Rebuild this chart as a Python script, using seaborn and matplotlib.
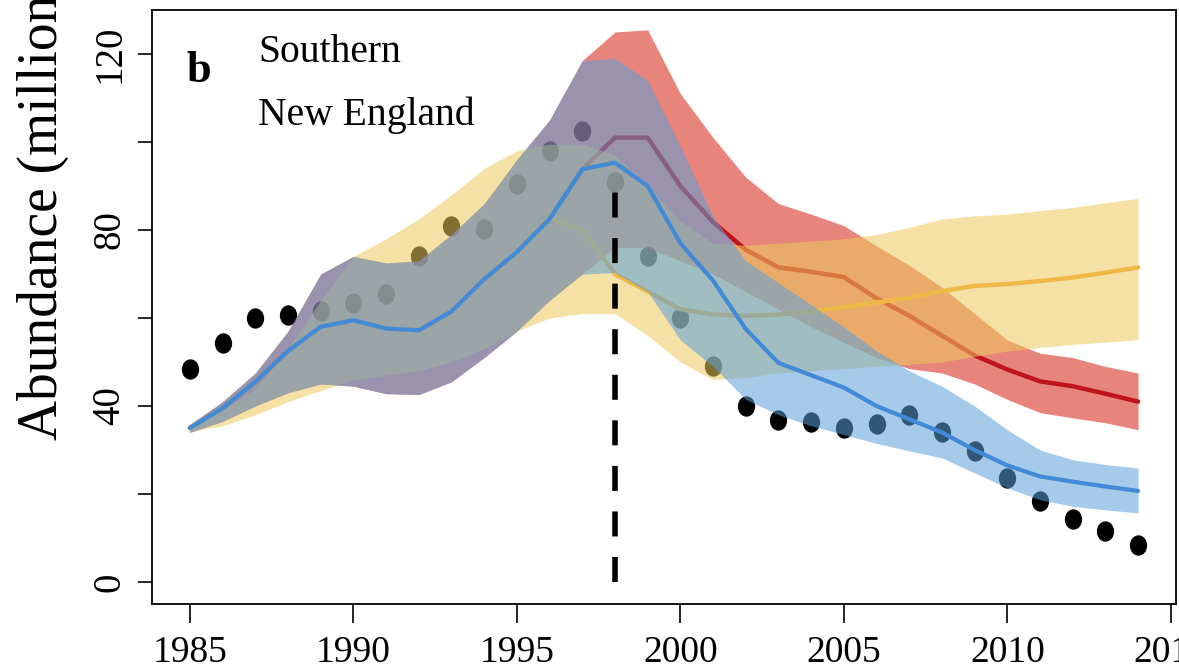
import matplotlib
matplotlib.use("Agg")
import matplotlib.pyplot as plt
import numpy as np
import pandas as pd
import seaborn as sns
from matplotlib.markers import MarkerStyle
from matplotlib.transforms import Affine2D

# ---------------- data ----------------
years = list(range(1985, 2015))

observed = [48.3, 54.4, 60.1, 60.7, 61.5, 63.4, 65.4, 74.2, 80.8, 80.2,
            90.4, 98.0, 102.5, 91.0, 74.0, 60.1, 49.0, 39.9, 36.9, 36.3,
            35.0, 35.9, 38.0, 34.1, 29.7, 23.6, 18.3, 14.3, 11.6, 8.4]

blue_mid = [35.0, 39.5, 45.5, 52.5, 58.0, 59.5, 57.6, 57.2, 61.5, 68.8,
            75.0, 82.5, 93.8, 95.3, 90.0, 77.0, 68.5, 57.5, 49.8, 47.0,
            44.2, 40.0, 37.0, 34.0, 30.0, 26.5, 24.0, 22.8, 21.7, 20.7]
blue_hi = [35.8, 41.0, 47.5, 57.0, 70.0, 74.0, 72.5, 73.0, 79.0, 86.0,
           96.0, 105.0, 118.5, 119.0, 114.0, 99.0, 83.0, 73.0, 68.0, 63.0,
           58.0, 52.5, 48.0, 44.5, 40.0, 34.6, 30.0, 27.8, 26.7, 25.9]
blue_lo = [34.0, 36.5, 40.0, 43.0, 45.0, 44.5, 42.8, 42.6, 45.5, 51.0,
           57.0, 64.0, 70.0, 70.3, 66.0, 55.0, 49.0, 41.5, 38.0, 35.5,
           33.5, 31.5, 29.8, 28.2, 24.8, 21.4, 18.7, 17.2, 16.4, 15.7]

red_mid = [35.0, 39.5, 45.5, 52.5, 58.0, 59.5, 57.6, 57.2, 61.5, 68.8,
           75.0, 82.5, 93.8, 101.0, 101.0, 90.0, 81.8, 75.5, 71.5, 70.5,
           69.3, 64.5, 60.5, 56.0, 51.5, 48.3, 45.6, 44.5, 42.8, 41.0]
red_hi = [35.8, 41.0, 47.5, 57.0, 70.0, 74.0, 72.5, 73.0, 79.0, 86.0,
          96.0, 105.0, 118.5, 125.0, 125.5, 111.0, 101.0, 92.0, 86.0, 83.6,
          81.0, 76.4, 72.0, 67.0, 61.0, 55.0, 52.0, 51.0, 49.0, 47.5]
red_lo = [34.0, 36.5, 40.0, 43.0, 45.0, 44.5, 42.8, 42.6, 45.5, 51.0,
          57.0, 64.0, 70.0, 76.0, 76.0, 73.0, 70.0, 66.0, 62.0, 58.0,
          54.5, 51.0, 48.5, 47.5, 45.0, 41.5, 38.5, 37.3, 36.2, 34.6]

yellow_mid = [35.0, 39.5, 45.5, 52.5, 58.0, 59.5, 57.6, 57.2, 61.5, 68.8,
              75.0, 82.5, 80.0, 70.0, 66.0, 62.0, 60.8, 60.5, 60.8, 61.5,
              62.5, 63.5, 64.6, 66.1, 67.3, 67.7, 68.4, 69.2, 70.3, 71.5]
yellow_hi = [35.5, 39.0, 44.0, 53.0, 64.0, 74.0, 78.0, 82.5, 88.0, 94.0,
             98.0, 99.5, 99.5, 97.0, 90.0, 82.0, 77.0, 76.5, 77.0, 77.5,
             78.0, 79.0, 80.6, 82.5, 83.2, 83.6, 84.4, 85.1, 86.2, 87.2]
yellow_lo = [34.2, 35.5, 38.0, 41.0, 43.5, 46.0, 47.0, 48.0, 50.0, 53.0,
             57.0, 60.0, 61.0, 61.0, 56.0, 50.0, 46.0, 46.5, 47.5, 48.0,
             48.5, 49.0, 49.5, 50.0, 51.3, 52.5, 53.3, 54.0, 54.5, 55.1]

split_year = 1998
x_ticks = [1985, 1990, 1995, 2000, 2005, 2010, 2015]
y_ticks = [0, 20, 40, 60, 80, 100, 120]
y_tick_labels = ["0", "", "40", "", "80", "", "120"]

df = pd.DataFrame({
    "year": years, "observed": observed,
    "blue_mid": blue_mid, "blue_hi": blue_hi, "blue_lo": blue_lo,
    "red_mid": red_mid, "red_hi": red_hi, "red_lo": red_lo,
    "yellow_mid": yellow_mid, "yellow_hi": yellow_hi, "yellow_lo": yellow_lo,
})

# ---------------- style ----------------
sns.set_style("ticks")
plt.rcParams["font.family"] = ["Liberation Serif", "DejaVu Serif"]
plt.rcParams["text.color"] = "black"
plt.rcParams["axes.labelcolor"] = "black"
plt.rcParams["xtick.color"] = "black"
plt.rcParams["ytick.color"] = "black"
plt.rcParams["axes.edgecolor"] = "black"

fig = plt.figure(figsize=(11.79, 6.72), dpi=100)
W, H = 1179, 672
ax = fig.add_axes([152 / W, 1 - 604 / H, (1176 - 152) / W, (604 - 10) / H])

RED_BAND = "#d51f11"
YEL_BAND = "#edca5b"
BLUE_BAND = "#5ba0d9"
A = 0.55

# observed points (underneath the bands)
sns.scatterplot(data=df, x="year", y="observed", color="black", s=215,
                marker=MarkerStyle("o", transform=Affine2D().scale(0.85, 1.0)),
                linewidth=0, ax=ax, zorder=1, legend=False)

# red scenario
ax.fill_between(df["year"], df["red_lo"], df["red_hi"], color=RED_BAND,
                alpha=A, linewidth=0, zorder=2)
sns.lineplot(data=df, x="year", y="red_mid", color="#c0141c", lw=3.2,
             ax=ax, zorder=3)

# yellow scenario (line sits under its own band)
sns.lineplot(data=df, x="year", y="yellow_mid", color="#f2a630", lw=3.2,
             ax=ax, zorder=4)
ax.fill_between(df["year"], df["yellow_lo"], df["yellow_hi"], color=YEL_BAND,
                alpha=A, linewidth=0, zorder=5)

# blue scenario
ax.fill_between(df["year"], df["blue_lo"], df["blue_hi"], color=BLUE_BAND,
                alpha=A, linewidth=0, zorder=6)
sns.lineplot(data=df, x="year", y="blue_mid", color="#4289d6", lw=3.0,
             ax=ax, zorder=7)

# vertical dashed line at split year
obs_split = df.loc[df["year"] == split_year, "observed"].iloc[0]
ax.vlines(split_year, 0, obs_split, colors="black", linewidth=4,
          linestyles=(0, (4.5, 3.7)), zorder=8)

# ---------------- axes ----------------
ax.set_xlim(1983.84, 2015.16)
ax.set_ylim(-5, 130)
ax.set_xticks(x_ticks)
ax.set_xticklabels([str(t) for t in x_ticks])
ax.set_yticks(y_ticks)
ax.set_yticklabels(y_tick_labels)
ax.set_xlabel("")
ax.set_ylabel("")
for s in ax.spines.values():
    s.set_visible(True)
    s.set_linewidth(1.3)
    s.set_color("black")
ax.tick_params(axis="x", length=13.5, width=1.2, pad=9, labelsize=27,
               colors="black", labelcolor="black")
ax.tick_params(axis="y", length=10, width=1.2, pad=7, labelsize=28,
               labelrotation=90, colors="black", labelcolor="black")
for lab in ax.get_yticklabels():
    lab.set_va("center")

# ---------------- text ----------------
fig.text(0.036, 1 - 197 / H, "Abundance (millions)", rotation=90,
         ha="center", va="center", fontsize=40, color="black")
fig.text(186 / W, 1 - 82 / H, "b", fontsize=32, fontweight="bold",
         ha="left", va="baseline", color="black")
fig.text(258 / W, 1 - 62 / H, "Southern", fontsize=28.5,
         ha="left", va="baseline", color="black")
fig.text(258 / W, 1 - 125 / H, "New England", fontsize=28.5,
         ha="left", va="baseline", color="black")

fig.savefig("out.png", dpi=100)
